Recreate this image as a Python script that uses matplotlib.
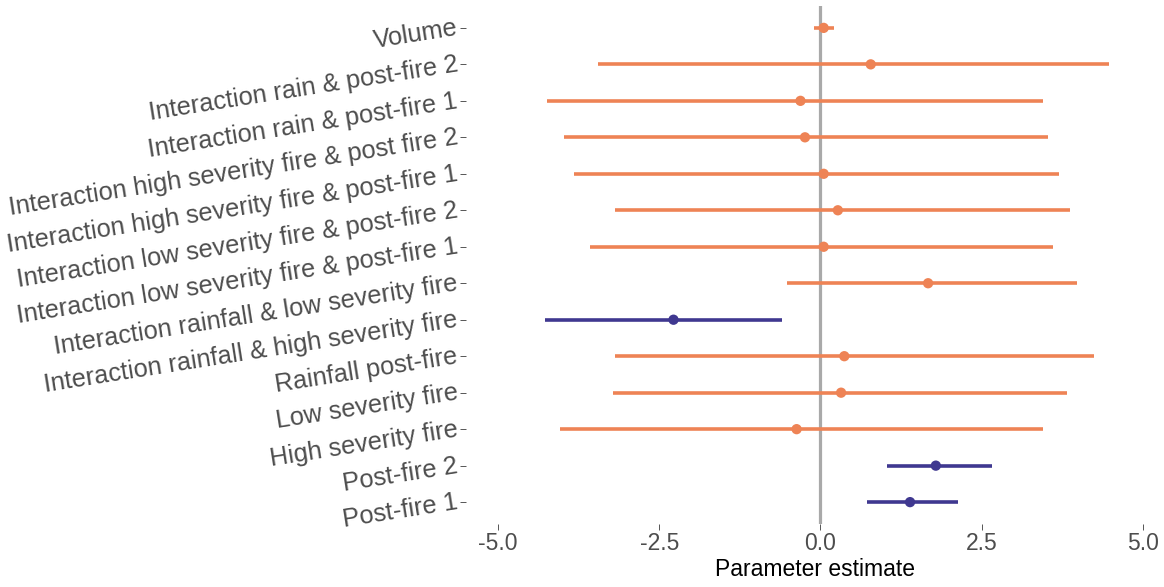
import numpy as np
import matplotlib
matplotlib.use("Agg")
import matplotlib.pyplot as plt

plt.rcParams['font.family'] = ['Liberation Sans', 'DejaVu Sans']

# rows listed bottom to top
terms = ["Post-fire 1", "Post-fire 2", "High severity fire", "Low severity fire",
         "Rainfall post-fire", "Interaction rainfall & high severity fire",
         "Interaction rainfall & low severity fire",
         "Interaction low severity fire & post-fire 1",
         "Interaction low severity fire & post-fire 2",
         "Interaction high severity fire & post-fire 1",
         "Interaction high severity fire & post fire 2",
         "Interaction rain & post-fire 1", "Interaction rain & post-fire 2", "Volume"]
estimate = [1.39, 1.79, -0.37, 0.32, 0.37, -2.28, 1.67, 0.05, 0.27, 0.05, -0.24, -0.31, 0.78, 0.05]
lower = [0.72, 1.04, -4.04, -3.22, -3.18, -4.28, -0.52, -3.57, -3.18, -3.83, -3.98, -4.25, -3.45, -0.10]
upper = [2.13, 2.66, 3.45, 3.83, 4.25, -0.60, 3.98, 3.61, 3.87, 3.70, 3.53, 3.45, 4.48, 0.21]
significant = [True, True, False, False, False, True, False, False, False, False, False, False, False, False]

orange = '#EE8355'
purple = '#3F3890'

fig = plt.figure(figsize=(11.64, 5.87), dpi=100)
ax = fig.add_axes([0.4003, 0.1073, 0.5997, 0.8825])

y = np.arange(len(terms))
cols = [purple if s else orange for s in significant]

ax.axvline(0, color='#A9A9A9', lw=2.3, zorder=1)
ax.hlines(y, lower, upper, colors=cols, lw=2.6, zorder=2)
ax.scatter(estimate, y, s=55, c=cols, zorder=3, linewidths=0)

ax.set_xlim(-5.5, 5.33)
ax.set_ylim(-0.6, len(terms) - 0.4)
ax.set_xticks([-5, -2.5, 0, 2.5, 5])
ax.set_xticklabels(['-5.0', '-2.5', '0.0', '2.5', '5.0'])
ax.set_yticks(y)
ax.set_yticklabels(terms, rotation=9, rotation_mode='anchor', ha='right', va='center')

for s in ax.spines.values():
    s.set_visible(False)
ax.tick_params(axis='both', labelcolor='#4D4D4D', color='#555555',
               length=4, width=0.7, pad=2)
ax.tick_params(axis='x', labelsize=16.5)
ax.tick_params(axis='y', labelsize=18.3)
ax.set_xlabel('Parameter estimate', fontsize=16.5, color='black', labelpad=2)

fig.savefig('out.png', dpi=100)
